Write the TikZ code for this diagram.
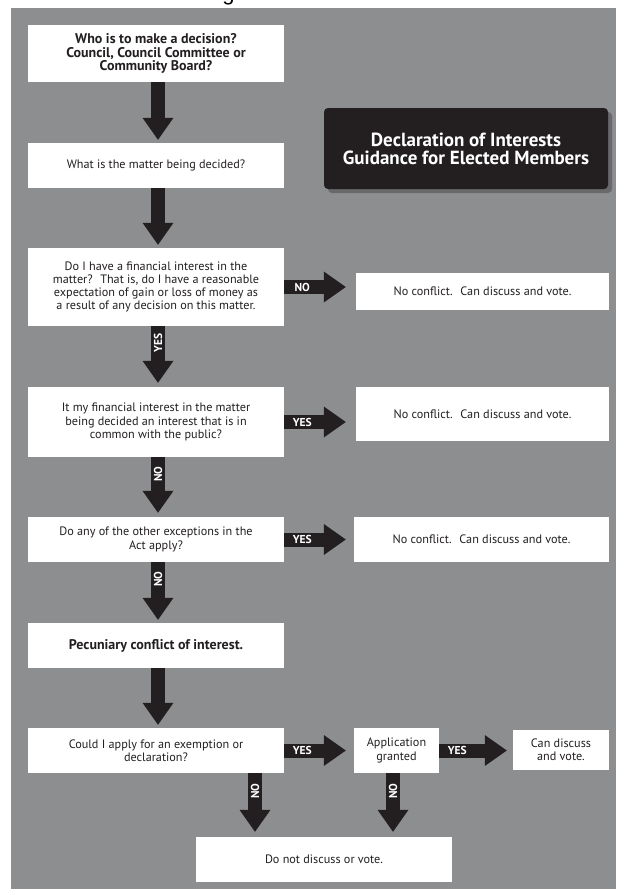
\documentclass[tikz,border=0pt]{standalone}
\usepackage{fontspec}
\setmainfont{PT Sans}
\newfontfamily\hdfont{PT Sans}
\newfontfamily\gfont{Liberation Sans}
\usetikzlibrary{arrows.meta,shadows}
\definecolor{panel}{RGB}{141,142,144}
\definecolor{ink}{RGB}{35,31,32}
\definecolor{shade}{RGB}{60,60,62}
\begin{document}
\begin{tikzpicture}[x=1pt,y=-1pt,
  wbox/.style={fill=white, draw=none, inner sep=2pt, align=center, text=ink,
    font=\fontsize{12.2}{13.2}\selectfont},
  hbox/.style={wbox, font=\hdfont\bfseries\fontsize{14}{13.5}\selectfont},
  wide/.style={minimum width=256pt},
  fat/.style={draw=ink, line width=14pt,
    -{Triangle[length=22pt,width=31pt,line width=0pt]}},
  lbl/.style={text=white, inner sep=0pt, font=\hdfont\bfseries\fontsize{11.5}{11.5}\selectfont}
]
\useasboundingbox (0,0) rectangle (616,889);
\fill[white] (0,0) rectangle (616,889);
\fill[panel] (11,8) rectangle (616,889);
\node[anchor=base, inner sep=0pt, font=\gfont\fontsize{22}{22}\selectfont] (gfrag) at (228.5,0.5) {g};

% left column boxes
\node[hbox, wide, minimum height=57pt] (b1) at (156,53.5)
  {Who is to make a decision?\\Council, Council Committee or\\Community Board?};
\node[wbox, wide, minimum height=45pt] (b2) at (156,165.5)
  {What is the matter being decided?};
\node[wbox, wide, minimum height=78pt] (b3) at (156,287)
  {Do I have a financial interest in the\\matter?~ That is, do I have a reasonable\\expectation of gain or loss of money as\\a result of any decision on this matter.};
\node[wbox, wide, minimum height=70pt] (b4) at (156,422)
  {It my financial interest in the matter\\being decided an interest that is in\\common with the public?};
\node[wbox, wide, minimum height=45pt] (b5) at (156,539.5)
  {Do any of the other exceptions in the\\Act apply?};
\node[hbox, wide, minimum height=45pt] (b6) at (156,645.5)
  {Pecuniary conflict of interest.};
\node[wbox, wide, minimum height=45pt] (b7) at (156,750.5)
  {Could I apply for an exemption or\\declaration?};

% right column boxes
\node[wbox, minimum width=253pt, minimum height=37pt] (r1) at (482.5,291.5)
  {No conflict.~ Can discuss and vote.};
\node[wbox, minimum width=253pt, minimum height=54pt] (r2) at (482.5,414)
  {No conflict.~ Can discuss and vote.};
\node[wbox, minimum width=255pt, minimum height=45pt] (r3) at (481.5,539.5)
  {No conflict.~ Can discuss and vote.};
\node[wbox, minimum width=85pt, minimum height=45pt] (b8) at (396.5,750.5)
  {Application\\granted};
\node[wbox, minimum width=96pt, minimum height=40pt] (b9) at (561,750)
  {Can discuss\\and vote.};
\node[wbox, wide, minimum height=45pt] (b10) at (324,859.5)
  {Do not discuss or vote.};

% title box
\node[fill=ink, rounded corners=4pt, minimum width=284pt, minimum height=81pt,
  text=white, align=center, font=\hdfont\bfseries\fontsize{19}{18}\selectfont,
  drop shadow={shadow xshift=4pt, shadow yshift=-4pt, fill=shade, opacity=0.45}]
  (title) at (466,148.5) {Declaration of Interests\\Guidance for Elected Members};

% arrow columns
\coordinate (c1) at (158,0);
\coordinate (c2) at (255,0);
\coordinate (c3) at (393,0);

% vertical arrows
\draw[fat, shorten >=3pt] (b1.south -| c1) -- (b2.north -| c1);
\draw[fat, shorten >=3pt] (b2.south -| c1) -- (b3.north -| c1);
\draw[fat, shorten >=4pt] (b3.south -| c1) -- (b4.north -| c1);
\node[lbl, rotate=90] (yes1) at ([yshift=-17pt]b3.south -| c1) {YES};
\draw[fat, shorten >=4pt] (b4.south -| c1) -- (b5.north -| c1);
\node[lbl, rotate=90] (no2) at ([yshift=-17pt]b4.south -| c1) {NO};
\draw[fat, shorten >=3pt] (b5.south -| c1) -- (b6.north -| c1);
\node[lbl, rotate=90] (no3) at ([yshift=-17pt]b5.south -| c1) {NO};
\draw[fat, shorten >=3pt] (b6.south -| c1) -- (b7.north -| c1);
\draw[fat, shorten >=5pt] (b7.south -| c2) -- (b10.north -| c2);
\node[lbl, rotate=90] (no4) at ([yshift=-18pt]b7.south -| c2) {NO};
\draw[fat, shorten >=5pt] (b8.south -| c3) -- (b10.north -| c3);
\node[lbl, rotate=90] (no5) at ([yshift=-18pt]b8.south -| c3) {NO};

% horizontal arrows
\draw[fat, shorten >=10pt] (b3.east) -- (b3.east -| r1.west);
\node[lbl] (no1) at ([xshift=18pt]b3.east) {NO};
\draw[fat, shorten >=10pt] (b4.east) -- (b4.east -| r2.west);
\node[lbl] (yes2) at ([xshift=18pt]b4.east) {YES};
\draw[fat, shorten >=8pt] (b5.east) -- (b5.east -| r3.west);
\node[lbl] (yes3) at ([xshift=18pt]b5.east) {YES};
\draw[fat, shorten >=8pt] (b7.east) -- (b7.east -| b8.west);
\node[lbl] (yes4) at ([xshift=18pt]b7.east) {YES};
\draw[fat, shorten >=6pt] (b8.east) -- (b8.east -| b9.west);
\node[lbl] (yes5) at ([xshift=18pt]b8.east) {YES};
\end{tikzpicture}
\end{document}
